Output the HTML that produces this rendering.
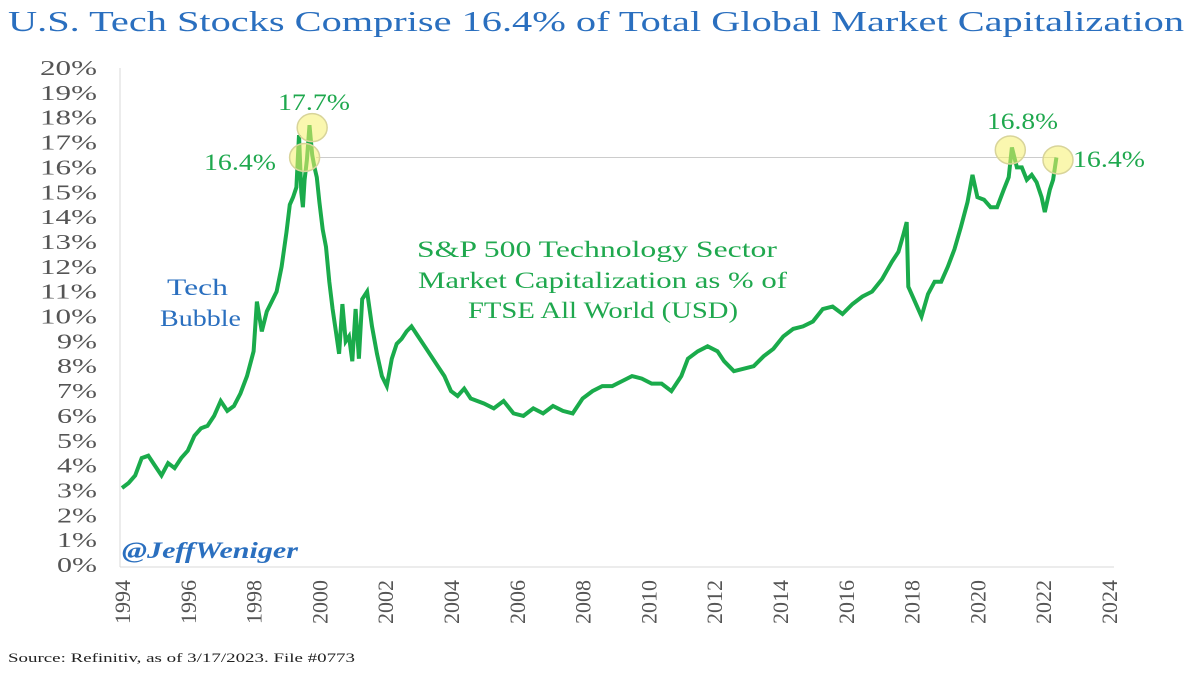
<!DOCTYPE html>
<html><head><meta charset="utf-8"><style>
body{margin:0;width:1200px;height:675px;background:#fff;overflow:hidden;font-family:"Liberation Serif",serif}
</style></head><body>
<svg id="chart" width="1200" height="675" xmlns="http://www.w3.org/2000/svg">
<text x="8" y="31" font-size="29" fill="#2a6fbf" font-family="Liberation Serif,serif" textLength="1176" lengthAdjust="spacingAndGlyphs">U.S. Tech Stocks Comprise 16.4% of Total Global Market Capitalization</text>
<text x="8" y="662" font-size="13" fill="#222" font-family="Liberation Serif,serif" textLength="347" lengthAdjust="spacingAndGlyphs">Source: Refinitiv, as of 3/17/2023. File #0773</text>
</svg>
<script>
const yearTicks=[1994,1996,1998,2000,2002,2004,2006,2008,2010,2012,2014,2016,2018,2020,2022,2024];
const yTicks=[0,1,2,3,4,5,6,7,8,9,10,11,12,13,14,15,16,17,18,19,20];
const years=[1994.0,1994.2,1994.4,1994.6,1994.8,1995.0,1995.2,1995.4,1995.6,1995.8,1996.0,1996.2,1996.4,1996.6,1996.8,1997.0,1997.2,1997.4,1997.6,1997.8,1998.0,1998.1,1998.25,1998.4,1998.55,1998.7,1998.85,1999.0,1999.1,1999.2,1999.3,1999.38,1999.45,1999.5,1999.55,1999.62,1999.7,1999.78,1999.85,1999.92,2000.0,2000.1,2000.2,2000.3,2000.4,2000.5,2000.6,2000.7,2000.8,2000.9,2001.0,2001.1,2001.2,2001.3,2001.45,2001.6,2001.75,2001.9,2002.05,2002.2,2002.35,2002.5,2002.65,2002.8,2003.0,2003.2,2003.4,2003.6,2003.8,2004.0,2004.2,2004.4,2004.6,2004.8,2005.0,2005.3,2005.6,2005.9,2006.2,2006.5,2006.8,2007.1,2007.4,2007.7,2008.0,2008.3,2008.6,2008.9,2009.2,2009.5,2009.8,2010.1,2010.4,2010.7,2011.0,2011.2,2011.5,2011.8,2012.1,2012.3,2012.6,2012.9,2013.2,2013.5,2013.8,2014.1,2014.4,2014.7,2015.0,2015.3,2015.6,2015.9,2016.2,2016.5,2016.8,2017.1,2017.4,2017.6,2017.75,2017.85,2017.9,2018.1,2018.3,2018.5,2018.7,2018.9,2019.1,2019.3,2019.5,2019.7,2019.85,2020.0,2020.2,2020.4,2020.6,2020.8,2020.95,2021.05,2021.2,2021.35,2021.5,2021.65,2021.8,2021.95,2022.05,2022.2,2022.3,2022.4];
const values=[3.1,3.3,3.6,4.3,4.4,4.0,3.6,4.1,3.9,4.3,4.6,5.2,5.5,5.6,6.0,6.6,6.2,6.4,6.9,7.6,8.6,10.6,9.4,10.2,10.6,11.0,12.0,13.4,14.5,14.8,15.2,17.3,15.0,14.4,15.5,16.3,17.7,16.5,16.0,15.6,14.6,13.5,12.8,11.4,10.3,9.4,8.5,10.5,9.0,9.2,8.2,10.3,8.3,10.7,11.0,9.6,8.5,7.6,7.2,8.3,8.9,9.1,9.4,9.6,9.2,8.8,8.4,8.0,7.6,7.0,6.8,7.1,6.7,6.6,6.5,6.3,6.6,6.1,6.0,6.3,6.1,6.4,6.2,6.1,6.7,7.0,7.2,7.2,7.4,7.6,7.5,7.3,7.3,7.0,7.6,8.3,8.6,8.8,8.6,8.2,7.8,7.9,8.0,8.4,8.7,9.2,9.5,9.6,9.8,10.3,10.4,10.1,10.5,10.8,11.0,11.5,12.2,12.6,13.3,13.8,11.2,10.6,10.0,10.9,11.4,11.4,12.0,12.7,13.6,14.6,15.7,14.8,14.7,14.4,14.4,15.1,15.6,16.8,16.0,16.0,15.5,15.7,15.4,14.8,14.2,15.1,15.5,16.4];
const NS='http://www.w3.org/2000/svg';
const svg=document.getElementById('chart');
const X0=122,X1=1109,Y0=565,Y1=68;
const xs=y=>X0+(y-1994)/30*(X1-X0);
const ys=v=>Y0-v/20*(Y0-Y1);
function mk(tag,attrs,parent){const e=document.createElementNS(NS,tag);for(const k in attrs)e.setAttribute(k,attrs[k]);(parent||svg).appendChild(e);return e;}
let ax=mk('line',{x1:X0-2,y1:Y1,x2:X0-2,y2:Y0+2,stroke:'#d9d9d9','stroke-width':1});


let bx=mk('line',{x1:X0-2,y1:Y0+2,x2:X1+5,y2:Y0+2,stroke:'#d9d9d9','stroke-width':1});


yTicks.forEach(t=>{const e=mk('text',{x:97,y:ys(t)+7,'font-size':21,'text-anchor':'end',fill:'#555','font-family':'Liberation Serif,serif',textLength:(t>=10?57:40),lengthAdjust:'spacingAndGlyphs'});e.textContent=t+'%';

});
yearTicks.forEach(t=>{const x=xs(t);const e=mk('text',{x:0,y:0,'font-size':22,'text-anchor':'end',fill:'#555','font-family':'Liberation Serif,serif',transform:`translate(${x+8},580) rotate(-90)`});e.textContent=t;

});
let rl=mk('line',{x1:xs(1999.9),y1:ys(16.4),x2:xs(2022.4),y2:ys(16.4),stroke:'#cccccc','stroke-width':1});


let d='';years.forEach((y,i)=>{d+=(i?'L':'M')+xs(y).toFixed(1)+','+ys(values[i]).toFixed(1);});
let p=mk('path',{d:d,fill:'none',stroke:'#1aab4b','stroke-width':4,'stroke-linejoin':'miter'});


[[1999.55,16.4],[1999.78,17.6],[2021.0,16.7],[2022.45,16.3]].forEach(c=>{const e=mk('ellipse',{cx:xs(c[0]),cy:ys(c[1]),rx:15,ry:14,fill:'rgba(245,240,110,0.55)',stroke:'#d8d49a','stroke-width':1.5});

});
function txt(s,x,y,size,fill,name,len){const e=mk('text',{x:x,y:y,'font-size':size,fill:fill,'font-family':'Liberation Serif,serif',textLength:len,lengthAdjust:'spacingAndGlyphs'});e.textContent=s;

return e;}
txt('17.7%',278,110,23,'#1fa84e','peak-label-17-7',72);
txt('16.4%',204,170,23,'#1fa84e','label-16-4-1999',72);
txt('16.8%',987,129,23,'#1fa84e','peak-label-16-8',71);
txt('16.4%',1073,167,23,'#1fa84e','label-16-4-2022',72);
txt('S&P 500 Technology Sector',417,257,23,'#1fa84e','annotation-line1',360);
txt('Market Capitalization as % of',418,288,23,'#1fa84e','annotation-line2',369);
txt('FTSE All World (USD)',468,318,23,'#1fa84e','annotation-line3',270);
txt('Tech',167,295,23,'#2a6fbf','tech-bubble-line1',61);
txt('Bubble',160,326,23,'#2a6fbf','tech-bubble-line2',81);
let w=txt('@JeffWeniger',122,558,23,'#2a6fbf','watermark',176);
w.setAttribute('font-style','italic');w.setAttribute('font-weight','bold');
</script>
</body></html>
